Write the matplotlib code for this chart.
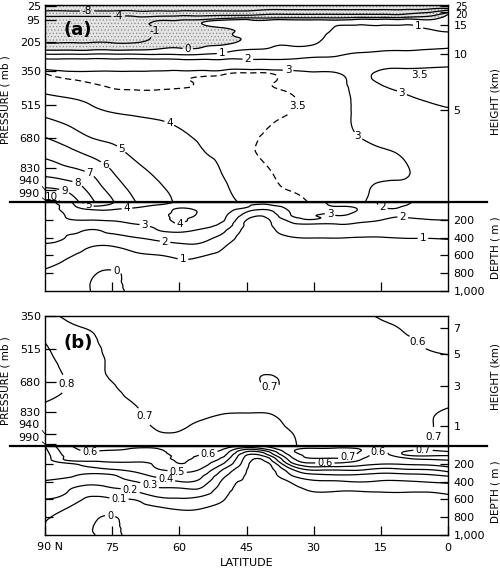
import numpy as np
import matplotlib
matplotlib.use("Agg")
import matplotlib.pyplot as plt
import matplotlib.tri as mtri
from matplotlib.lines import Line2D

plt.rcParams['font.family'] = ['Liberation Sans Narrow', 'DejaVu Sans']
plt.rcParams['hatch.color'] = '#8a8a8a'
plt.rcParams['hatch.linewidth'] = 0.5

# ---------------- data ----------------
lats = [90, 85, 80, 75, 70, 65, 60, 55, 50, 45, 40, 35, 30, 25, 20, 15, 10, 5, 0]

# (a) atmosphere: rows = pressure (mb), columns = lats
p_a = [20, 35, 50, 65, 80, 100, 130, 160, 190, 220, 245, 270, 300, 330, 360,
       400, 450, 520, 600, 680, 760, 840, 920, 970, 1000]
atm_a = [
    [-12, -12, -12, -12, -12, -12, -12, -12, -12, -12, -12, -12, -12, -12, -12, -12, -12, -12, -12],
    [-9.7, -9.7, -9.7, -9.7, -9.7, -9.7, -9.7, -9.7, -9.7, -9.7, -9.2, -9.2, -9.2, -9.2, -9.2, -9.2, -9.2, -9.2, -8.8],
    [-7.95, -7.95, -7.95, -7.95, -7.95, -7.95, -7.95, -7.95, -7.95, -7.95, -7, -7, -7, -7, -7, -7, -7, -6, -2.5],
    [-5.5, -5.5, -5.5, -5.5, -5.5, -5.5, -5.5, -5.5, -5.5, -5.5, -4.3, -4.3, -4.3, -4.3, -4.3, -4.3, -4.3, -2.5, -0.2],
    [-3.7, -3.7, -3.7, -3.7, -3.7, -3.5, -3.0, -3.0, -2.2, -1.8, -1.6, -1.5, -1.5, -1.5, -1.3, -1.3, -1.3, -0.8, 0.15],
    [-2.6, -2.6, -2.6, -2.6, -2.6, -0.9, -0.7, -0.3, 0.4, 0.3, 0.3, 0.3, 0.25, 0.3, 0.45, 0.45, 0.45, 0.3, 0.2],
    [-2.1, -2.1, -2.1, -2.1, -2.1, -0.8, -0.6, -0.5, 0.15, 0.3, 0.45, 0.5, 0.45, 1.05, 1.2, 1.15, 1.15, 0.95, 0.7],
    [-1.8, -1.8, -1.8, -1.8, -1.8, -0.8, -0.55, -0.5, -0.15, 0.2, 0.6, 0.65, 0.65, 1.2, 1.3, 1.3, 1.3, 1.25, 1.1],
    [-1.4, -1.4, -1.4, -1.4, -1.4, -0.75, -0.5, -0.45, -0.25, 0.1, 0.75, 0.8, 0.82, 1.35, 1.5, 1.5, 1.55, 1.55, 1.5],
    [-0.7, -0.7, -0.7, -0.7, -0.7, -0.4, -0.2, -0.15, 0.05, 0.5, 0.9, 0.97, 1.02, 1.5, 1.7, 1.75, 1.8, 1.85, 1.85],
    [0.02, 0.02, 0.02, 0.03, 0.05, 0.15, 0.2, 0.25, 0.7, 1.05, 1.1, 1.2, 1.3, 1.7, 1.9, 1.95, 1.98, 2.03, 2.1],
    [1.3, 1.3, 1.3, 1.3, 1.3, 1.2, 1.15, 1.2, 1.35, 1.5, 1.55, 1.65, 1.8, 1.95, 2.1, 2.25, 2.3, 2.35, 2.4],
    [2.3, 2.25, 2.25, 2.25, 2.25, 2.3, 2.25, 2.25, 2.25, 2.2, 2.15, 2.2, 2.3, 2.3, 2.4, 2.6, 2.65, 2.7, 2.75],
    [2.7, 2.65, 2.65, 2.7, 2.65, 2.7, 2.7, 2.7, 2.7, 2.7, 2.65, 2.75, 2.75, 2.75, 2.7, 2.9, 2.95, 2.97, 3.02],
    [3.48, 3.2, 3.15, 3.15, 3.15, 3.2, 3.25, 3.3, 3.4, 3.55, 3.52, 3.15, 3.05, 3.02, 2.9, 3.08, 3.15, 3.25, 3.3],
    [3.7, 3.55, 3.47, 3.35, 3.3, 3.35, 3.44, 3.54, 3.57, 3.62, 3.6, 3.3, 3.2, 3.12, 2.92, 3.05, 3.15, 3.3, 3.4],
    [3.9, 3.8, 3.75, 3.6, 3.55, 3.55, 3.58, 3.6, 3.62, 3.65, 3.62, 3.45, 3.3, 3.18, 2.9, 2.92, 3.02, 3.15, 3.3],
    [4.5, 4.25, 4.02, 3.85, 3.8, 3.75, 3.75, 3.7, 3.7, 3.65, 3.6, 3.55, 3.35, 3.2, 2.9, 2.85, 2.9, 2.95, 3.03],
    [5.2, 4.85, 4.5, 4.3, 4.15, 4.05, 3.9, 3.8, 3.75, 3.62, 3.53, 3.4, 3.3, 3.18, 2.92, 2.85, 2.85, 2.88, 2.9],
    [6.02, 5.55, 5.02, 4.8, 4.5, 4.35, 4.15, 3.92, 3.8, 3.58, 3.45, 3.3, 3.25, 3.15, 3.01, 2.92, 2.88, 2.85, 2.85],
    [6.75, 6.35, 5.85, 5.35, 4.85, 4.6, 4.4, 4.05, 3.88, 3.6, 3.42, 3.3, 3.25, 3.15, 3.1, 3.05, 2.97, 2.85, 2.82],
    [7.6, 7.2, 6.8, 5.95, 5.25, 4.85, 4.6, 4.25, 3.95, 3.7, 3.51, 3.35, 3.3, 3.2, 3.15, 3.1, 3.04, 2.88, 2.82],
    [8.8, 8.5, 7.6, 6.5, 5.65, 5.1, 4.75, 4.4, 4.05, 3.8, 3.58, 3.45, 3.35, 3.25, 3.12, 2.95, 2.95, 2.85, 2.8],
    [10.1, 9.3, 8.05, 6.9, 5.9, 5.25, 4.85, 4.45, 4.1, 3.85, 3.62, 3.55, 3.4, 3.25, 3.1, 2.9, 2.9, 2.82, 2.78],
    [10.5, 9.7, 8.3, 7.1, 6.05, 5.3, 4.9, 4.5, 4.15, 3.9, 3.65, 3.6, 3.45, 3.3, 3.08, 2.88, 2.88, 2.8, 2.78],
]

# ocean depths (m); ocean fields stored as one profile per latitude
depths = [0, 20, 40, 60, 80, 100, 130, 160, 200, 250, 300, 350, 400, 500, 600, 700, 800, 900, 1000]
ocn_a = [
    [2.95, 2.9, 2.85, 2.8, 2.75, 2.7, 2.6, 2.5, 2.4, 2.3, 2.2, 2.15, 2.07, 1.9, 1.5, 1.15, 0.9, 0.7, 0.55],
    [3.6, 3.5, 3.4, 3.35, 3.3, 3.2, 3.1, 3.05, 2.95, 2.8, 2.55, 2.1, 1.98, 1.6, 1.1, 0.85, 0.65, 0.5, 0.4],
    [5.6, 5.3, 5.05, 4.6, 4.1, 3.8, 3.6, 3.4, 3.02, 2.8, 2.1, 1.9, 1.75, 1.05, 0.75, 0.45, 0.15, 0.02, 0.01],
    [5.05, 4.98, 4.7, 4.3, 4.05, 3.9, 3.7, 3.45, 3.1, 2.75, 2.4, 2.05, 1.7, 0.98, 0.6, 0.25, -0.1, -0.2, -0.2],
    [4.5, 4.4, 4.25, 4.05, 3.9, 3.8, 3.6, 3.4, 3.2, 2.98, 2.6, 2.3, 1.97, 1.3, 0.85, 0.5, 0.3, 0.25, 0.2],
    [4.2, 4.1, 3.95, 3.85, 3.8, 3.75, 3.7, 3.7, 3.6, 3.35, 3.05, 2.7, 2.25, 1.6, 0.97, 0.6, 0.4, 0.35, 0.3],
    [3.95, 3.9, 3.88, 3.95, 4.05, 4.1, 4.15, 4.15, 4.1, 3.98, 3.5, 2.9, 2.5, 1.75, 1.15, 0.85, 0.6, 0.5, 0.45],
    [3.7, 3.7, 3.75, 3.8, 3.85, 3.9, 3.9, 3.85, 3.7, 3.4, 3.02, 2.65, 2.3, 1.75, 1.05, 0.8, 0.6, 0.5, 0.45],
    [3.5, 3.5, 3.5, 3.45, 3.4, 3.35, 3.25, 3.15, 3.05, 2.7, 2.3, 1.95, 1.6, 1.05, 0.75, 0.6, 0.5, 0.45, 0.4],
    [3.3, 3.2, 3.1, 3.02, 2.6, 2.2, 1.8, 1.45, 1.02, 0.8, 0.7, 0.62, 0.58, 0.5, 0.45, 0.42, 0.4, 0.4, 0.4],
    [3.2, 3.05, 2.9, 2.5, 2.15, 1.85, 1.55, 1.25, 0.97, 0.85, 0.75, 0.7, 0.65, 0.55, 0.5, 0.45, 0.42, 0.4, 0.4],
    [3.4, 3.4, 3.35, 3.3, 3.2, 3.12, 3.05, 2.95, 2.4, 1.85, 1.55, 1.25, 0.97, 0.75, 0.6, 0.5, 0.45, 0.42, 0.4],
    [3.3, 3.3, 3.3, 3.25, 3.2, 3.15, 3.1, 3.05, 2.95, 1.95, 1.7, 1.4, 1.02, 0.8, 0.65, 0.55, 0.5, 0.45, 0.42],
    [2.8, 2.88, 2.95, 3.05, 3.1, 3.1, 3.05, 2.95, 2.5, 1.98, 1.7, 1.4, 1.03, 0.8, 0.65, 0.55, 0.5, 0.45, 0.42],
    [2.5, 2.6, 2.75, 2.9, 2.97, 2.95, 2.85, 2.7, 2.3, 1.9, 1.6, 1.3, 0.98, 0.75, 0.6, 0.5, 0.45, 0.42, 0.4],
    [1.9, 1.92, 1.97, 2.05, 2.15, 2.2, 2.2, 2.15, 2.02, 1.75, 1.5, 1.2, 0.98, 0.75, 0.6, 0.5, 0.45, 0.42, 0.4],
    [1.85, 1.9, 1.97, 2.05, 2.1, 2.15, 2.1, 2.03, 1.9, 1.7, 1.45, 1.2, 1.02, 0.8, 0.65, 0.55, 0.5, 0.45, 0.42],
    [2.2, 2.2, 2.2, 2.2, 2.2, 2.18, 2.12, 2.06, 1.98, 1.75, 1.5, 1.2, 1.02, 0.8, 0.65, 0.55, 0.5, 0.45, 0.42],
    [2.3, 2.3, 2.28, 2.25, 2.22, 2.2, 2.15, 2.08, 2.01, 1.8, 1.55, 1.25, 1.05, 0.82, 0.65, 0.55, 0.5, 0.45, 0.42],
]

# (b) atmosphere: rows = pressure (mb), columns = lats
p_b = [350, 400, 450, 500, 550, 600, 650, 700, 750, 800, 850, 900, 950, 1000]
atm_b = [
    [0.72, 0.69, 0.67, 0.64, 0.62, 0.62, 0.62, 0.62, 0.62, 0.63, 0.63, 0.63, 0.63, 0.62, 0.61, 0.595, 0.58, 0.57, 0.57],
    [0.76, 0.71, 0.69, 0.66, 0.64, 0.63, 0.63, 0.63, 0.63, 0.64, 0.64, 0.64, 0.64, 0.63, 0.625, 0.61, 0.595, 0.58, 0.575],
    [0.79, 0.74, 0.71, 0.67, 0.65, 0.64, 0.64, 0.64, 0.645, 0.65, 0.65, 0.65, 0.645, 0.64, 0.635, 0.625, 0.605, 0.59, 0.585],
    [0.805, 0.76, 0.72, 0.68, 0.66, 0.65, 0.65, 0.65, 0.655, 0.66, 0.66, 0.66, 0.655, 0.65, 0.645, 0.635, 0.62, 0.597, 0.595],
    [0.82, 0.77, 0.73, 0.685, 0.67, 0.66, 0.66, 0.66, 0.665, 0.67, 0.675, 0.67, 0.665, 0.66, 0.655, 0.645, 0.635, 0.615, 0.602],
    [0.83, 0.78, 0.73, 0.69, 0.675, 0.665, 0.665, 0.665, 0.67, 0.68, 0.685, 0.68, 0.67, 0.665, 0.66, 0.655, 0.65, 0.64, 0.63],
    [0.84, 0.79, 0.73, 0.695, 0.68, 0.67, 0.67, 0.67, 0.675, 0.685, 0.702, 0.685, 0.675, 0.67, 0.665, 0.66, 0.655, 0.65, 0.645],
    [0.84, 0.798, 0.73, 0.702, 0.685, 0.675, 0.675, 0.675, 0.68, 0.685, 0.702, 0.685, 0.675, 0.67, 0.665, 0.66, 0.66, 0.655, 0.655],
    [0.82, 0.78, 0.73, 0.71, 0.69, 0.68, 0.68, 0.68, 0.685, 0.685, 0.685, 0.68, 0.675, 0.67, 0.665, 0.665, 0.665, 0.665, 0.67],
    [0.79, 0.76, 0.73, 0.72, 0.702, 0.685, 0.685, 0.685, 0.69, 0.69, 0.69, 0.685, 0.675, 0.67, 0.665, 0.665, 0.67, 0.68, 0.695],
    [0.77, 0.75, 0.73, 0.72, 0.71, 0.69, 0.69, 0.695, 0.703, 0.705, 0.703, 0.69, 0.68, 0.67, 0.665, 0.665, 0.67, 0.69, 0.715],
    [0.76, 0.74, 0.73, 0.72, 0.715, 0.695, 0.695, 0.705, 0.71, 0.715, 0.71, 0.695, 0.68, 0.67, 0.665, 0.665, 0.67, 0.69, 0.72],
    [0.75, 0.74, 0.73, 0.72, 0.715, 0.705, 0.705, 0.71, 0.715, 0.72, 0.715, 0.703, 0.68, 0.67, 0.665, 0.665, 0.67, 0.69, 0.72],
    [0.75, 0.74, 0.73, 0.72, 0.715, 0.71, 0.71, 0.715, 0.72, 0.72, 0.72, 0.705, 0.685, 0.67, 0.665, 0.665, 0.67, 0.69, 0.72],
]

ocn_b = [
    [0.42, 0.39, 0.38, 0.37, 0.36, 0.35, 0.34, 0.33, 0.32, 0.31, 0.31, 0.305, 0.295, 0.25, 0.198, 0.15, 0.11, 0.095, 0.07],
    [0.58, 0.57, 0.56, 0.55, 0.54, 0.53, 0.52, 0.505, 0.38, 0.35, 0.32, 0.302, 0.27, 0.205, 0.16, 0.098, 0.07, 0.05, 0.04],
    [0.63, 0.62, 0.61, 0.603, 0.59, 0.57, 0.55, 0.52, 0.45, 0.38, 0.31, 0.28, 0.24, 0.15, 0.08, 0.04, 0.02, 0.01, 0.01],
    [0.64, 0.62, 0.605, 0.59, 0.57, 0.56, 0.54, 0.52, 0.48, 0.42, 0.33, 0.28, 0.25, 0.18, 0.09, 0.04, -0.005, -0.02, -0.02],
    [0.65, 0.605, 0.59, 0.58, 0.57, 0.56, 0.54, 0.52, 0.48, 0.45, 0.39, 0.35, 0.298, 0.205, 0.103, 0.07, 0.05, 0.04, 0.04],
    [0.65, 0.61, 0.59, 0.58, 0.57, 0.56, 0.55, 0.54, 0.52, 0.502, 0.45, 0.402, 0.35, 0.27, 0.17, 0.09, 0.06, 0.05, 0.05],
    [0.66, 0.65, 0.64, 0.63, 0.63, 0.62, 0.62, 0.61, 0.598, 0.55, 0.49, 0.45, 0.398, 0.27, 0.19, 0.11, 0.07, 0.06, 0.05],
    [0.66, 0.65, 0.64, 0.63, 0.61, 0.598, 0.58, 0.56, 0.54, 0.502, 0.45, 0.402, 0.36, 0.27, 0.17, 0.102, 0.07, 0.06, 0.05],
    [0.64, 0.62, 0.59, 0.56, 0.54, 0.52, 0.48, 0.44, 0.39, 0.31, 0.25, 0.205, 0.17, 0.13, 0.102, 0.07, 0.06, 0.05, 0.05],
    [0.62, 0.49, 0.39, 0.31, 0.26, 0.205, 0.17, 0.15, 0.13, 0.11, 0.098, 0.09, 0.085, 0.075, 0.065, 0.06, 0.055, 0.05, 0.05],
    [0.62, 0.58, 0.51, 0.42, 0.36, 0.31, 0.21, 0.16, 0.09, 0.07, 0.06, 0.06, 0.055, 0.05, 0.05, 0.05, 0.05, 0.05, 0.05],
    [0.66, 0.67, 0.68, 0.68, 0.66, 0.63, 0.59, 0.54, 0.46, 0.32, 0.23, 0.17, 0.11, 0.07, 0.06, 0.05, 0.05, 0.05, 0.05],
    [0.66, 0.69, 0.72, 0.73, 0.73, 0.72, 0.71, 0.66, 0.58, 0.46, 0.33, 0.25, 0.18, 0.105, 0.07, 0.06, 0.05, 0.05, 0.05],
    [0.66, 0.695, 0.73, 0.74, 0.74, 0.73, 0.71, 0.66, 0.58, 0.45, 0.34, 0.26, 0.19, 0.105, 0.07, 0.06, 0.05, 0.05, 0.05],
    [0.65, 0.68, 0.71, 0.71, 0.695, 0.68, 0.64, 0.605, 0.54, 0.45, 0.34, 0.26, 0.205, 0.105, 0.07, 0.06, 0.05, 0.05, 0.05],
    [0.66, 0.65, 0.63, 0.61, 0.58, 0.57, 0.55, 0.53, 0.505, 0.405, 0.31, 0.24, 0.19, 0.11, 0.07, 0.06, 0.05, 0.05, 0.05],
    [0.64, 0.64, 0.66, 0.69, 0.71, 0.69, 0.605, 0.56, 0.51, 0.42, 0.32, 0.25, 0.19, 0.11, 0.08, 0.06, 0.05, 0.05, 0.05],
    [0.64, 0.66, 0.69, 0.72, 0.73, 0.72, 0.65, 0.58, 0.52, 0.43, 0.33, 0.26, 0.205, 0.11, 0.08, 0.07, 0.06, 0.05, 0.05],
    [0.64, 0.66, 0.68, 0.698, 0.72, 0.71, 0.66, 0.598, 0.55, 0.47, 0.38, 0.28, 0.22, 0.12, 0.09, 0.07, 0.06, 0.05, 0.05],
]

lev_atm_a = [-8, -4, -1, 0, 1, 2, 3, 4, 5, 6, 7, 8, 9, 10]
lev_ocn_a = [0, 1, 2, 3, 4, 5]
lev_atm_b = [0.6, 0.7, 0.8]
lev_ocn_b = [0, 0.1, 0.2, 0.3, 0.4, 0.5, 0.6, 0.7]

p_ticks_a = [25, 95, 205, 350, 515, 680, 830, 940, 990]
p_ticks_b = [350, 515, 680, 830, 940, 990]
km_ticks_a = [25, 20, 15, 10, 5]
km_ticks_b = [7, 5, 3, 1]
depth_ticks = [200, 400, 600, 800, 1000]
depth_labels = ['200', '400', '600', '800', '1,000']
lat_ticks = [90, 75, 60, 45, 30, 15, 0]
lat_labels = ['90 N', '75', '60', '45', '30', '15', '0']


def std_p(h):
    # standard atmosphere pressure (mb) at height h (km)
    if h <= 11:
        return 1013.25 * (1 - 0.0065 * h * 1000 / 288.15) ** 5.2559
    return 226.32 * np.exp(-(h - 11) * 1000 / 6341.6)


def smooth_field(z, ys, scale):
    X, Y = np.meshgrid(lats, ys)
    tri = mtri.Triangulation(X.ravel(), Y.ravel() * scale)
    tri_r, z_r = mtri.UniformTriRefiner(tri).refine_field(np.asarray(z, float).ravel(), subdiv=3)
    return mtri.Triangulation(tri_r.x, tri_r.y / scale, tri_r.triangles), z_r


def fmt(v):
    return f'{v:g}'


def label(ax, cs, pos, size=7.5):
    for t in ax.clabel(cs, inline=True, fontsize=size, fmt=fmt, inline_spacing=2, manual=pos):
        t.set_rotation(0)


W, H = 500, 570
fig = plt.figure(figsize=(W / 100, H / 100), dpi=100)


def box(top, bottom):
    return fig.add_axes([45 / W, 1 - bottom / H, 403 / W, (bottom - top) / H])


ax_a = box(5, 202)
ax_ao = box(202, 291)
ax_b = box(316, 446)
ax_bo = box(446, 535)

TS = 8
LW = 0.9
for ax in (ax_a, ax_ao, ax_b, ax_bo):
    ax.set_xlim(90, 0)
    for s in ax.spines.values():
        s.set_linewidth(1.0)
    ax.tick_params(labelsize=TS, width=0.9, colors='k')

ax_a.set_ylim(1000, 20)
ax_b.set_ylim(1000, 350)
ax_ao.set_ylim(1000, 0)
ax_bo.set_ylim(1000, 0)

# ---- panel (a) atmosphere ----
t, z = smooth_field(atm_a, p_a, 0.0449)
ax_a.tricontourf(t, z, levels=[-50, 0], colors=['#e4e4e4'], hatches=['.....'])
cs = ax_a.tricontour(t, z, levels=lev_atm_a, colors='k', linewidths=LW, linestyles='solid')
label(ax_a, cs, [(80.6, 50), (73.7, 75), (65.9, 144), (58.1, 229), (50.5, 254),
                 (6.7, 129), (44.7, 288), (35.7, 333), (20.3, 676), (10.3, 457),
                 (62.1, 601), (72.8, 731), (76.4, 810), (80, 855), (82.6, 900),
                 (85.5, 930), (88.4, 960)])
cd = ax_a.tricontour(t, z, levels=[3.5], colors='k', linewidths=LW, linestyles=[(0, (5, 3))])
label(ax_a, cd, [(33.5, 527)])
ax_a.text(6.3, 368, '3.5', fontsize=7.5, ha='center', va='center')

# ---- panel (a) ocean ----
t, z = smooth_field(np.array(ocn_a).T, depths, 0.0199)
cs = ax_ao.tricontour(t, z, levels=lev_ocn_a, colors='k', linewidths=LW, linestyles='solid')
label(ax_ao, cs, [(80.4, 56), (71.7, 67), (59.9, 225), (67.7, 258), (26.4, 157),
                  (63.2, 450), (10.1, 169), (14.7, 67), (59.2, 650), (5.6, 427),
                  (74.4, 820)])

# ---- panel (b) atmosphere ----
t, z = smooth_field(atm_b, p_b, 0.0449)
cs = ax_b.tricontour(t, z, levels=lev_atm_b, colors='k', linewidths=LW, linestyles='solid')
label(ax_b, cs, [(85.1, 690), (67.2, 845), (39.8, 680), (4.5, 955), (7.8, 510)])

# ---- panel (b) ocean ----
t, z = smooth_field(np.array(ocn_b).T, depths, 0.0199)
cs = ax_bo.tricontour(t, z, levels=lev_ocn_b, colors='k', linewidths=LW, linestyles='solid')
label(ax_bo, cs, [(80, 67), (53.6, 67), (27.5, 191), (15.6, 56), (60.5, 292),
                  (63.0, 360), (66.5, 416), (71.0, 510), (73.5, 620), (75.5, 798),
                  (22.3, 146), (5.6, 67)], size=7)

# ---- ticks ----
for ax, pt in ((ax_a, p_ticks_a), (ax_b, p_ticks_b)):
    ax.set_xticks([])
    ax.set_yticks(pt)
    ax.set_yticklabels([str(v) if v < 940 else '' for v in pt])
    ax.tick_params(axis='y', direction='in', length=8, pad=3)
    for v, dy in ((940, 6.5), (990, 4.5)):
        ax.annotate(str(v), xy=(0, v), xycoords=('axes fraction', 'data'),
                    xytext=(-4, dy), textcoords='offset points', ha='right', va='center',
                    fontsize=TS, arrowprops=dict(arrowstyle='-', lw=0.6, shrinkA=0, shrinkB=0,
                                                 relpos=(1, 0.3)))

for ax, kt in ((ax_a, km_ticks_a), (ax_b, km_ticks_b)):
    tw = ax.twinx()
    tw.set_ylim(ax.get_ylim())
    tw.set_yticks([std_p(h) for h in kt])
    tw.set_yticklabels(['' if h >= 20 else str(h) for h in kt])
    tw.tick_params(direction='in', length=6, pad=4, labelsize=TS, width=0.9)
    for s in tw.spines.values():
        s.set_visible(False)

# the two crowded stratosphere labels sit just below their ticks
for h, y in ((25, 7), (20, 15.5)):
    fig.text(455 / W, 1 - y / H, str(h), fontsize=7, ha='left', va='center')

for ax in (ax_ao, ax_bo):
    ax.set_yticks(depth_ticks[:-1])
    ax.set_yticklabels([])
    ax.tick_params(axis='y', direction='in', length=6)
    tw = ax.twinx()
    tw.set_ylim(1000, 0)
    tw.set_yticks(depth_ticks)
    tw.set_yticklabels(depth_labels)
    tw.tick_params(direction='in', length=6, pad=4, labelsize=TS, width=0.9)
    for s in tw.spines.values():
        s.set_visible(False)

ax_ao.set_xticks(lat_ticks[1:-1])
ax_ao.set_xticklabels([])
ax_ao.tick_params(axis='x', direction='in', length=6.5)
ax_bo.set_xticks(lat_ticks)
ax_bo.set_xticklabels([''] + lat_labels[1:])
ax_bo.tick_params(axis='x', direction='in', length=6.5, pad=6)
fig.text(50 / W, 1 - 547 / H, lat_labels[0], fontsize=TS, ha='center', va='center')

# ---- separators and text ----
for y in (202, 446):
    fig.add_artist(Line2D([10 / W, 487 / W], [1 - y / H, 1 - y / H], color='k', lw=1.6))

fig.text(78 / W, 1 - 30 / H, '(a)', fontsize=13, weight='bold', ha='center', va='center')
fig.text(78 / W, 1 - 343 / H, '(b)', fontsize=13, weight='bold', ha='center', va='center')
for y, s in ((100, 'PRESSURE ( mb )'), (381, 'PRESSURE ( mb )')):
    fig.text(6 / W, 1 - y / H, s, rotation=90, fontsize=7.5, ha='center', va='center')
for y, s in ((102, 'HEIGHT (km)'), (248, 'DEPTH ( m )'), (377, 'HEIGHT (km)'), (492, 'DEPTH ( m )')):
    fig.text(496 / W, 1 - y / H, s, rotation=90, fontsize=7.5, ha='center', va='center')
fig.text(247 / W, 1 - 563 / H, 'LATITUDE', fontsize=8, ha='center', va='center')

fig.savefig('out.png', dpi=100)
